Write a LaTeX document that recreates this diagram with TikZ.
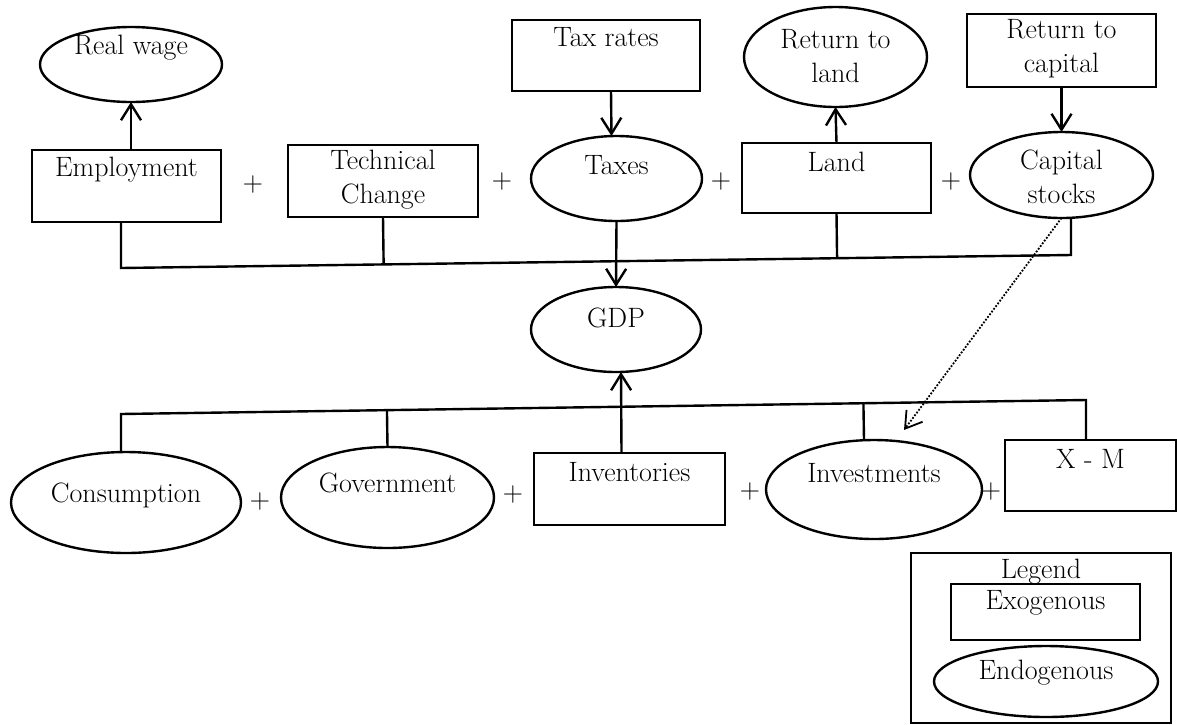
\documentclass[tikz,border=0pt]{standalone}
\usepackage{fontspec}
\usetikzlibrary{
  arrows.meta,
  calc,
  positioning,
  shapes,
}
\tikzset{
  x = 1pt,
  y = -1pt,
  font=\fontsize{28}{34}\selectfont,
  exo/.style={
    draw, line width=2.4pt, inner sep=0pt, outer sep=0pt,
  },
  endo/.style={
    draw, ellipse, line width=2.4pt, inner sep=0pt, outer sep=0pt,
  },
  lbl/.style={align=center, inner sep=0pt},
  link/.style={line width=2.4pt},
  dots/.style={line width=1.8pt, dash pattern=on 1.8pt off 1.6pt},
  >={Straight Barb[length=16pt,width=20pt]},
}

\begin{document}
\begin{tikzpicture}
  \useasboundingbox[fill=white] (0,0) rectangle (1177,724);
  %% top row
  \node[endo, minimum width=182, minimum height=75, label={[lbl,yshift=17]center:Real wage}](Wage) at (131,64.5){};
  \node[exo, minimum width=189, minimum height=72, label={[lbl,yshift=16]center:Employment}](Emp) at (126.5,186){};
  \node[exo, minimum width=190, minimum height=72, label={[lbl,yshift=1]center:Technical\\Change}](Tech) at (383,181){};
  \node[exo, minimum width=188, minimum height=71, label={[lbl,yshift=18]center:Tax rates}](TaxR) at (606,55.5){};
  \node[endo, minimum width=171, minimum height=85, label={[lbl,yshift=13]center:Taxes}](Tax) at (616.5,178.5){};
  \node[endo, minimum width=183, minimum height=100, label={[lbl,yshift=1]center:Return to\\land}](RLand) at (835.5,57){};
  \node[exo, minimum width=189, minimum height=70, label={[lbl,yshift=16]center:Land}](Land) at (836.5,178){};
  \node[exo, minimum width=189, minimum height=73, label={[lbl,yshift=1.5]center:Return to\\capital}](RCap) at (1061.5,50.5){};
  \node[endo, minimum width=183, minimum height=86, label={[lbl,yshift=-2]center:Capital\\stocks}](Cap) at (1061.5,175){};
  %%
  \node[endo, minimum width=170, minimum height=85, label={[lbl,yshift=12]center:GDP}](GDP) at (616,329.5){};
  %% bottom row
  \node[endo, minimum width=230, minimum height=101, label={[lbl,yshift=7]center:Consumption}](Cons) at (126,502.5){};
  \node[endo, minimum width=213, minimum height=101, label={[lbl,yshift=15]center:Government}](Gov) at (387.5,497.5){};
  \node[exo, minimum width=191, minimum height=72, label={[lbl,yshift=17]center:Inventories}](Inv) at (629.5,489){};
  \node[endo, minimum width=216, minimum height=99, label={[lbl,yshift=16]center:Investments}](Invest) at (874,489.5){};
  \node[exo, minimum width=171, minimum height=71, label={[lbl,yshift=17]center:X - M}](XM) at (1090.5,475.5){};
  %% plus signs
  \foreach \n/\px/\py in {1/253/185, 2/502/182, 3/721/182, 4/951/182,
                          5/260/502, 6/513/495, 7/750/492, 8/991/492}
    \node[lbl](Plus\n) at (\px,\py){+};
  %% legend
  \node[exo, line width=1.6pt, minimum width=260, minimum height=170](Leg) at (1041,638){};
  \node[lbl, below=6pt of Leg.north](LegT){Legend};
  \node[exo, minimum width=189, minimum height=56, label={[lbl,yshift=9]center:Exogenous}](Exo) at (1045.5,612){};
  \node[endo, minimum width=224, minimum height=71, label={[lbl,yshift=8.5]center:Endogenous}](Endo) at (1046,681.5){};
  %% upper bus into GDP
  \coordinate (TopL) at (121,268);
  \coordinate (TopR) at (1071,255);
  \draw[link](Emp.south -| TopL) -- (TopL) -- (TopR) -- (TopR |- Cap.south);
  \draw[link](Tech.south) -- ($(TopL)!(Tech.south)!(TopR)$);
  \draw[link](Land.south) -- ($(TopL)!(Land.south)!(TopR)$);
  %%
  \draw[link,->](Wage.south |- Emp.north) -- (Wage.south);
  \draw[link,->]([xshift=5]TaxR.south) -- ([xshift=-5]Tax.north);
  \draw[link,->](Tax.south) -- (GDP.north);
  \draw[link,->](Land.north) -- (RLand.south);
  \draw[link,->](RCap.south) -- (Cap.north);
  %% lower bus into GDP
  \coordinate (BotL) at (121,414);
  \coordinate (BotR) at (1086,400);
  \coordinate (InvTop) at ([xshift=-10]Invest.north);
  \draw[link](Cons.north -| BotL) -- (BotL) -- (BotR) -- (BotR |- XM.north);
  \draw[link](Gov.north) -- ($(BotL)!(Gov.north)!(BotR)$);
  \draw[link](InvTop) -- ($(BotL)!(InvTop)!(BotR)$);
  \draw[link,->]([xshift=-8]Inv.north) -- ([xshift=5]GDP.south);
  %%
  \coordinate (InvHit) at (904,430);
  \draw[dots,->](Cap.south) -- (InvHit);
\end{tikzpicture}
\end{document}
